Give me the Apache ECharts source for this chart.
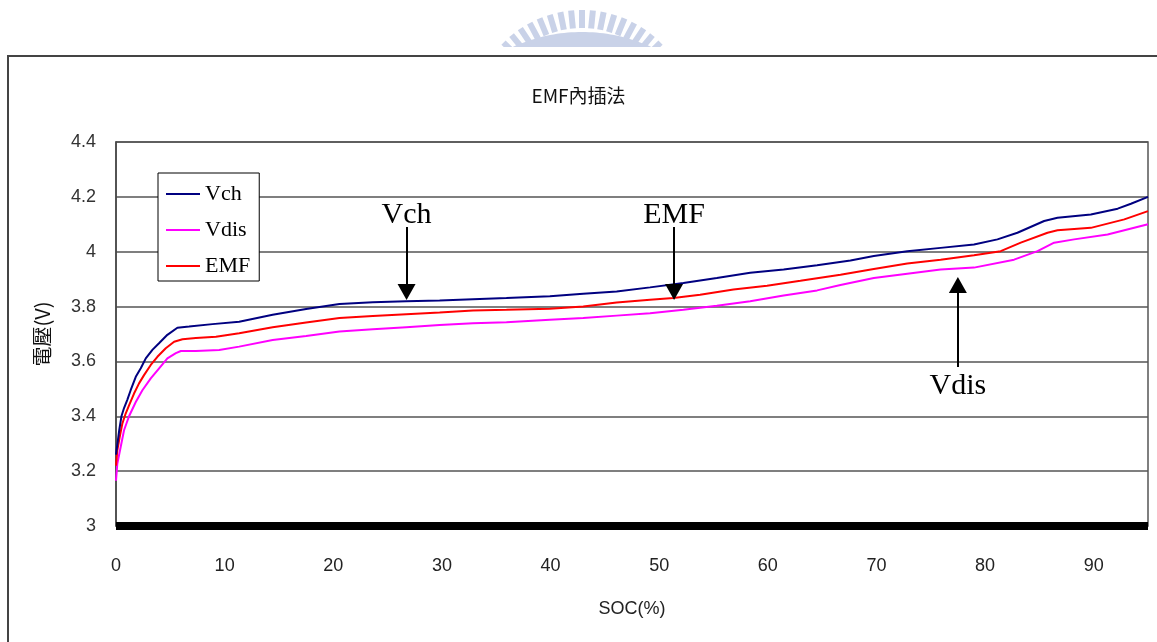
<!DOCTYPE html>
<html>
<head>
<meta charset="utf-8">
<script src="https://cdn.jsdelivr.net/npm/echarts@6/dist/echarts.min.js"></script>
<style>
  html, body { margin: 0; padding: 0; background: #fff; }
  #chart { width: 1157px; height: 642px; }
</style>
</head>
<body>
<div id="chart"></div>
<script>
// Charge voltage (Vch), state of charge in %
const socVch = [0, 0.3, 0.5, 0.74, 1.04, 1.35, 1.82, 2.28, 2.74, 3.35, 3.96, 4.73, 5.65, 6.73, 8.88,
  11.34, 14.42, 17.5, 20.57, 23.64, 26.72, 29.79, 32.86, 35.94, 39.94, 43.01, 46.09, 49.16, 52.23,
  55.31, 58.38, 61.46, 64.54, 67.61, 69.76, 72.84, 75.91, 78.98, 81.14, 82.98, 85.44, 86.67, 89.74,
  92.21, 93.43, 95];
const vCh = [3.26, 3.35, 3.40, 3.43, 3.46, 3.495, 3.544, 3.575, 3.611, 3.642, 3.666, 3.697, 3.723, 3.727, 3.736,
  3.745, 3.77, 3.791, 3.809, 3.816, 3.819, 3.822, 3.827, 3.831, 3.838, 3.847, 3.855, 3.87, 3.886,
  3.904, 3.923, 3.935, 3.951, 3.968, 3.984, 4.002, 4.014, 4.026, 4.045, 4.069, 4.112, 4.124, 4.136,
  4.157, 4.175, 4.2];

// Discharge voltage (Vdis)
const socVdis = [0, 0.12, 0.43, 0.74, 1.2, 1.82, 2.43, 3.2, 3.97, 4.73, 5.51, 5.97, 7.35, 9.5,
  11.34, 14.42, 17.5, 20.57, 23.64, 26.72, 29.79, 32.86, 35.94, 39.94, 43.01, 46.09, 49.16, 52.23,
  55.31, 58.38, 61.46, 64.54, 66.69, 69.76, 72.84, 75.91, 78.98, 82.67, 84.83, 86.36, 88.2, 91.28, 95];
const vDis = [3.165, 3.227, 3.288, 3.349, 3.40, 3.452, 3.495, 3.538, 3.575, 3.611, 3.63, 3.638, 3.638, 3.642,
  3.654, 3.678, 3.693, 3.709, 3.717, 3.725, 3.733, 3.739, 3.743, 3.752, 3.758, 3.767, 3.776, 3.788,
  3.803, 3.819, 3.84, 3.859, 3.879, 3.904, 3.92, 3.935, 3.942, 3.971, 4.002, 4.033, 4.045, 4.063, 4.1];

// Interpolated EMF
const socEmf = [0, 0.12, 0.34, 0.58, 0.89, 1.2, 1.66, 2.12, 2.58, 3.2, 3.81, 4.58, 5.35, 6.12, 7.35, 9.2,
  11.34, 14.42, 17.5, 20.57, 23.64, 26.72, 29.79, 32.86, 35.94, 39.94, 43.01, 46.09, 49.16, 51.31,
  53.77, 56.84, 59.93, 63.0, 66.69, 69.76, 72.84, 75.91, 78.98, 81.44, 83.29, 85.75, 86.67, 89.74, 92.82, 95];
const vEmf = [3.22, 3.276, 3.324, 3.373, 3.41, 3.44, 3.483, 3.52, 3.55, 3.587, 3.617, 3.648, 3.672, 3.681, 3.685, 3.69,
  3.703, 3.725, 3.742, 3.758, 3.766, 3.772, 3.778, 3.786, 3.788, 3.792, 3.80, 3.815, 3.825, 3.831,
  3.843, 3.862, 3.876, 3.894, 3.916, 3.937, 3.957, 3.971, 3.987, 4.002, 4.033, 4.069, 4.078, 4.087, 4.118, 4.148];

// Callout arrows: [label, soc, from voltage, to voltage]
const callouts = [
  ['Vch', 26.75, 4.09, 3.853],
  ['EMF', 51.37, 4.09, 3.853],
  ['Vdis', 77.5, 3.58, 3.879]
];

const seriesNames = ['Vch', 'Vdis', 'EMF'];
const seriesColors = ['#000080', '#ff00ff', '#ff0000'];

const zip = (xs, ys) => xs.map((x, i) => [x, ys[i]]);

function calloutMark(c, gap) {
  return {
    silent: true,
    symbol: ['none', 'triangle'],
    symbolSize: [18, 16],
    lineStyle: { color: '#000', width: 2, type: 'solid' },
    label: {
      show: true, position: 'start', formatter: c[0], distance: gap,
      fontFamily: 'Liberation Serif', fontSize: 30, color: '#000'
    },
    data: [[{ coord: [c[1], c[2]] }, { coord: [c[1], c[3]] }]]
  };
}

// Seal-like watermark above the frame: radial bars over an arc band,
// cut off by a horizontal edge just above the frame
const logoColor = '#c9d2e8';
const logoCx = 582, logoCy = 121, cutY = 47;
const logo = [];
for (let i = 0; i <= 16; i++) {
  const a = -45 + i * 5.625;
  logo.push({
    type: 'rect', x: logoCx, y: logoCy, rotation: -a * Math.PI / 180,
    shape: { x: -3, y: -111, width: 6, height: 18 },
    style: { fill: logoColor }, silent: true
  });
}
const bandCy = 200, bandR = 168;
const bandHalf = Math.acos((bandCy - cutY) / bandR);
const bandPts = [];
for (let k = 0; k <= 40; k++) {
  const t = -bandHalf + (2 * bandHalf * k) / 40;
  bandPts.push([logoCx + bandR * Math.sin(t), bandCy - bandR * Math.cos(t)]);
}
logo.push({ type: 'polygon', shape: { points: bandPts }, style: { fill: logoColor }, silent: true });
logo.push({
  type: 'rect', shape: { x: 470, y: cutY, width: 240, height: 8 },
  style: { fill: '#fff' }, silent: true
});

const chart = echarts.init(document.getElementById('chart'), null, { renderer: 'canvas' });

chart.setOption({
  animation: false,
  backgroundColor: '#fff',
  title: {
    text: 'EMF內插法', left: 'center', top: 81,
    textStyle: { fontFamily: 'Noto Sans CJK TC', fontSize: 19, fontWeight: 'normal', color: '#111' }
  },
  legend: {
    data: seriesNames, orient: 'vertical', left: 158, top: 173,
    backgroundColor: '#fff', borderColor: '#000', borderWidth: 1,
    padding: [10, 9, 4, 8], itemWidth: 34, itemHeight: 2, itemGap: 14,
    icon: 'rect',
    textStyle: { fontFamily: 'Liberation Serif', fontSize: 22, color: '#000', lineHeight: 22 }
  },
  grid: {
    left: 116, right: 9, top: 142, bottom: 116,
    show: true, borderColor: '#555', borderWidth: 1.5
  },
  xAxis: {
    type: 'value', min: 0, max: 95, interval: 10,
    name: 'SOC(%)', nameLocation: 'middle', nameGap: 74,
    nameTextStyle: { fontFamily: 'Liberation Sans', fontSize: 18, color: '#222' },
    axisLine: { show: true, onZero: false, lineStyle: { color: '#000', width: 8, cap: 'butt' } },
    axisTick: { show: false },
    splitLine: { show: false },
    axisLabel: { margin: 31, showMaxLabel: false, fontFamily: 'Liberation Sans', fontSize: 18, color: '#222' }
  },
  yAxis: {
    type: 'value', min: 3, max: 4.4, interval: 0.2,
    name: '電壓(V)', nameLocation: 'middle', nameGap: 64, nameRotate: 90,
    nameTextStyle: { fontFamily: 'Noto Sans CJK TC', fontSize: 20, color: '#111' },
    axisLine: { show: true, lineStyle: { color: '#444', width: 1.5 } },
    axisTick: { show: false },
    splitLine: { lineStyle: { color: '#555', width: 1.5 } },
    axisLabel: { margin: 20, fontFamily: 'Liberation Sans', fontSize: 18, color: '#333' }
  },
  graphic: logo.concat([
    {
      type: 'rect', shape: { x: 8, y: 56, width: 1300, height: 700 },
      style: { fill: 'none', stroke: '#444', lineWidth: 2 }, silent: true
    }
  ]),
  series: [
    {
      name: 'Vch', type: 'line', data: zip(socVch, vCh), symbol: 'none', z: 4,
      lineStyle: { color: seriesColors[0], width: 2 }, itemStyle: { color: seriesColors[0] },
      markLine: calloutMark(callouts[0], -3)
    },
    {
      name: 'Vdis', type: 'line', data: zip(socVdis, vDis), symbol: 'none', z: 2,
      lineStyle: { color: seriesColors[1], width: 2 }, itemStyle: { color: seriesColors[1] },
      markLine: calloutMark(callouts[2], 4)
    },
    {
      name: 'EMF', type: 'line', data: zip(socEmf, vEmf), symbol: 'none', z: 3,
      lineStyle: { color: seriesColors[2], width: 2 }, itemStyle: { color: seriesColors[2] },
      markLine: calloutMark(callouts[1], -3)
    }
  ]
});
</script>
</body>
</html>
